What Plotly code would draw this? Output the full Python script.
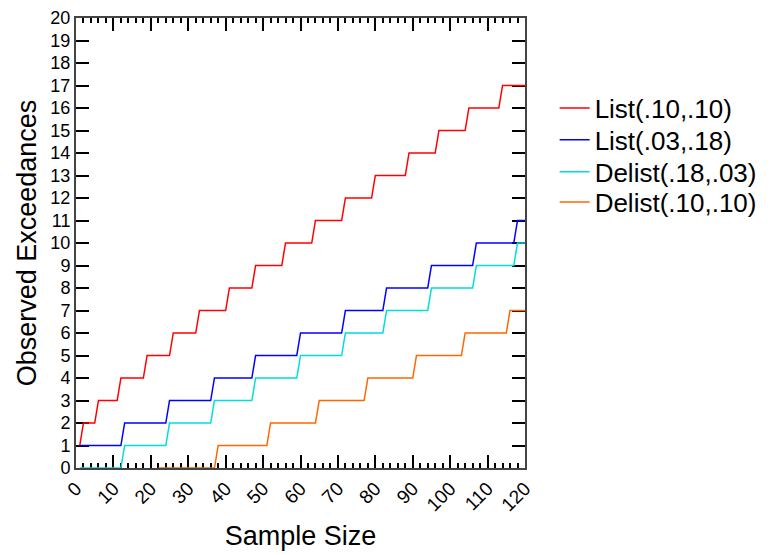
import plotly.graph_objects as go

# Step data: sample size at which each level is first reached, and the level
list_10_10_x = [1, 2, 6, 12, 19, 26, 33, 41, 48, 56, 64, 72, 80, 89, 97, 105, 114]
list_10_10_y = [1, 2, 3, 4, 5, 6, 7, 8, 9, 10, 11, 12, 13, 14, 15, 16, 17]

list_03_18_x = [1, 13, 25, 37, 48, 60, 72, 83, 95, 107, 118]
list_03_18_y = [1, 2, 3, 4, 5, 6, 7, 8, 9, 10, 11]

delist_18_03_x = [1, 13, 25, 37, 48, 60, 72, 83, 95, 107, 118]
delist_18_03_y = [0, 1, 2, 3, 4, 5, 6, 7, 8, 9, 10]

delist_10_10_x = [22, 38, 52, 65, 78, 91, 104, 116]
delist_10_10_y = [0, 1, 2, 3, 4, 5, 6, 7]

x_end = 120
x_ticks = [0, 10, 20, 30, 40, 50, 60, 70, 80, 90, 100, 110, 120]
y_ticks = list(range(0, 21))

series = [
    ("List(.10,.10)", list_10_10_x, list_10_10_y, "#FF0000"),
    ("List(.03,.18)", list_03_18_x, list_03_18_y, "#0000FF"),
    ("Delist(.18,.03)", delist_18_03_x, delist_18_03_y, "#00DDDD"),
    ("Delist(.10,.10)", delist_10_10_x, delist_10_10_y, "#FF6600"),
]


def step_path(xs, ys, end):
    px, py = [], []
    for i, (x, y) in enumerate(zip(xs, ys)):
        px.append(x)
        py.append(y)
        nxt = xs[i + 1] - 1 if i + 1 < len(xs) else end
        px.append(nxt)
        py.append(y)
    return px, py


font_family = "Liberation Sans, Arial, sans-serif"
legend_names = ["legend", "legend2", "legend3", "legend4"]
legend_rows = [0.800, 0.729, 0.658, 0.591]

fig = go.Figure()
legend_layout = {}
for (name, xs, ys, color), lname, ly in zip(series, legend_names, legend_rows):
    px, py = step_path(xs, ys, x_end)
    fig.add_trace(go.Scatter(x=px, y=py, mode="lines", name=name, legend=lname,
                             line=dict(color=color, width=1.5)))
    legend_layout[lname] = dict(x=1.066, y=ly, xanchor="left", yanchor="middle",
                                font=dict(size=26, family=font_family),
                                bgcolor="rgba(0,0,0,0)", borderwidth=0)

fig.update_layout(
    width=764, height=547,
    margin=dict(l=68, r=240, t=10, b=87),
    paper_bgcolor="white", plot_bgcolor="white",
    font=dict(family=font_family, color="black"),
    showlegend=True,
    xaxis=dict(range=[0, 120], tickvals=x_ticks, ticks="inside", ticklen=13,
               tickcolor="black", tickwidth=1.5, tickangle=-45,
               tickfont=dict(size=19), showgrid=False, zeroline=False,
               showline=True, linecolor="#444", linewidth=2, mirror="ticks",
               minor=dict(dtick=2, ticks="inside", ticklen=5, tickcolor="black",
                          tickwidth=1.5, showgrid=False),
               title=dict(text="Sample Size", font=dict(size=27), standoff=12),
               automargin=False, layer="below traces"),
    yaxis=dict(range=[0, 20], tickvals=y_ticks, ticks="inside", ticklen=13,
               tickcolor="black", tickwidth=1.5, tickfont=dict(size=18),
               showgrid=False, zeroline=False, showline=True, linecolor="#444",
               linewidth=2, mirror="ticks", ticklabeloverflow="allow",
               title=dict(text="Observed Exceedances", font=dict(size=27), standoff=6),
               automargin=False, layer="below traces"),
    **legend_layout,
)

fig.write_html("out.html", config={"displayModeBar": False})
